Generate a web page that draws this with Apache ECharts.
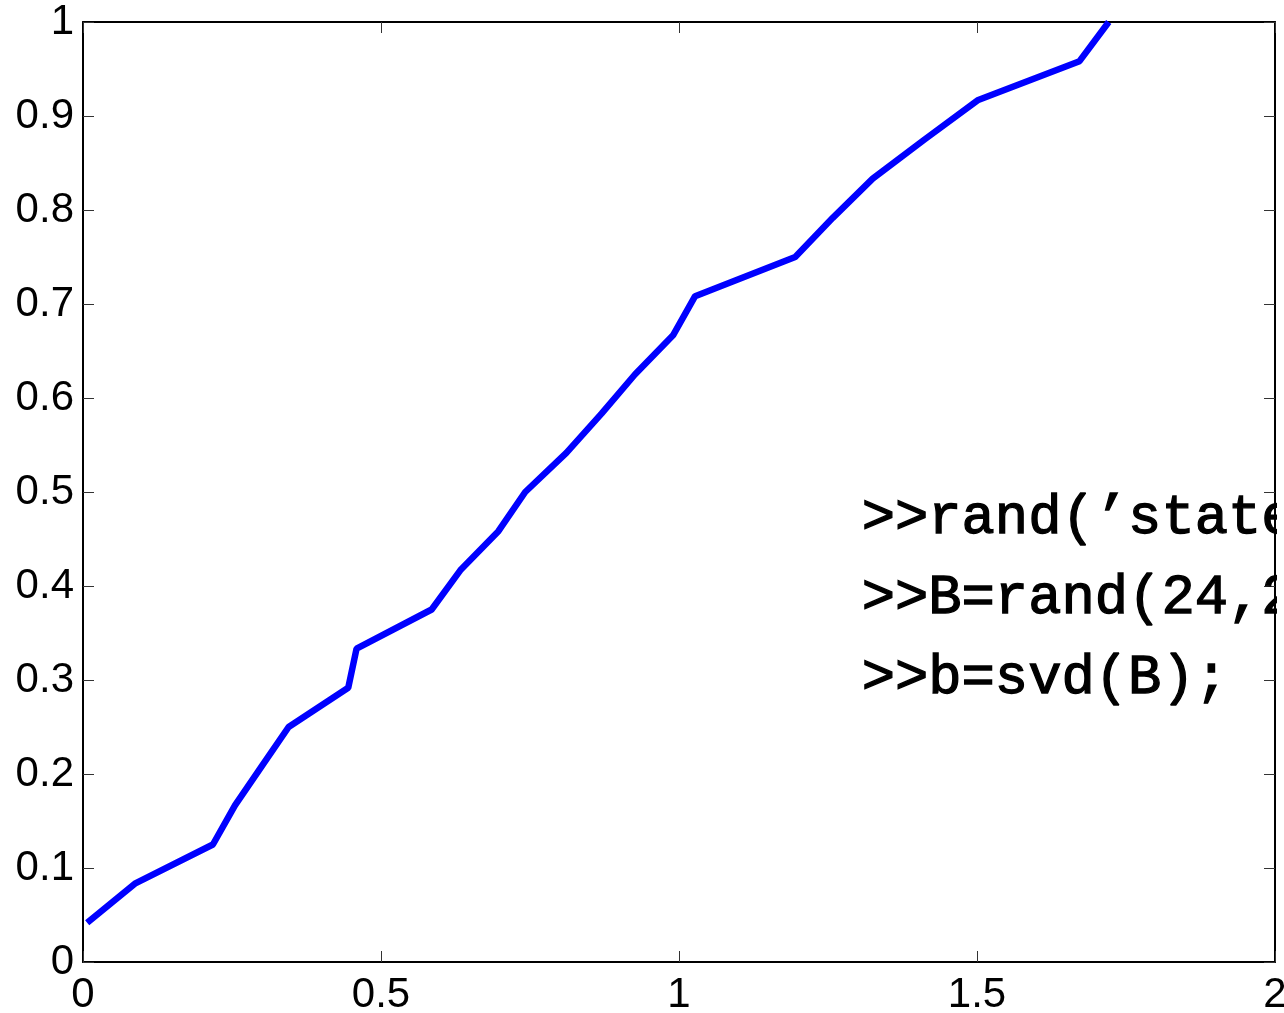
<!DOCTYPE html>
<html>
<head>
<meta charset="utf-8">
<script src="https://cdn.jsdelivr.net/npm/echarts@6/dist/echarts.min.js"></script>
<style>
  html, body { margin: 0; padding: 0; background: #fff; }
  #chart { width: 1284px; height: 1013px; }
</style>
</head>
<body>
<div id="chart"></div>
<script>
// sorted values (x) against cumulative fraction k/24 (y)
const xVals = [0.007, 0.087, 0.218, 0.255, 0.300, 0.345, 0.445, 0.459, 0.585, 0.633, 0.697, 0.742,
  0.811, 0.870, 0.926, 0.990, 1.027, 1.195, 1.258, 1.325, 1.412, 1.501, 1.672, 1.721];
const yVals = [1, 2, 3, 4, 5, 6, 7, 8, 9, 10, 11, 12, 13, 14, 15, 16, 17, 18, 19, 20, 21, 22, 23, 24]
  .map(k => k / 24);
const codeLines = [">>rand(\u2019state\u2019,0);", ">>B=rand(24,24);", ">>b=svd(B);"];

const chart = echarts.init(document.getElementById('chart'));
const labelFont = { fontFamily: 'Liberation Sans', fontSize: 42, color: '#000' };
const tick = { show: true, inside: true, length: 11, lineStyle: { color: '#333', width: 1 } };
const line = { show: true, onZero: false, lineStyle: { color: '#000', width: 2 } };

chart.setOption({
  animation: false,
  backgroundColor: '#fff',
  grid: { left: 83, right: 9, top: 22, bottom: 51, outerBoundsMode: 'none', containLabel: false },
  xAxis: [
    { type: 'value', min: 0, max: 2, interval: 0.5, position: 'bottom',
      axisLine: line, axisTick: tick, splitLine: { show: false },
      axisLabel: Object.assign({ margin: 12 }, labelFont) },
    { type: 'value', min: 0, max: 2, interval: 0.5, position: 'top',
      axisLine: line, axisTick: tick, splitLine: { show: false }, axisLabel: { show: false } }
  ],
  yAxis: [
    { type: 'value', min: 0, max: 1, interval: 0.1, position: 'left',
      axisLine: line, axisTick: tick, splitLine: { show: false },
      axisLabel: Object.assign({ margin: 9 }, labelFont) },
    { type: 'value', min: 0, max: 1, interval: 0.1, position: 'right',
      axisLine: line, axisTick: tick, splitLine: { show: false }, axisLabel: { show: false } }
  ],
  series: [{
    type: 'line',
    data: xVals.map((x, i) => [x, yVals[i]]),
    showSymbol: false,
    clip: true,
    lineStyle: { color: '#0000ff', width: 6.5 }
  }],
  graphic: [
    ...codeLines.map((t, i) => ({
      type: 'text', left: 861, top: 490 + i * 80, z: 1,
      style: { text: t, font: '55.5px "Liberation Mono"', fill: '#000', stroke: '#000', lineWidth: 1.3 }
    })),
    // text is cut at the right edge of the axes
    { type: 'rect', shape: { x: 1277, y: 470, width: 20, height: 250 }, z: 2,
      style: { fill: '#fff' } }
  ]
});
</script>
</body>
</html>
